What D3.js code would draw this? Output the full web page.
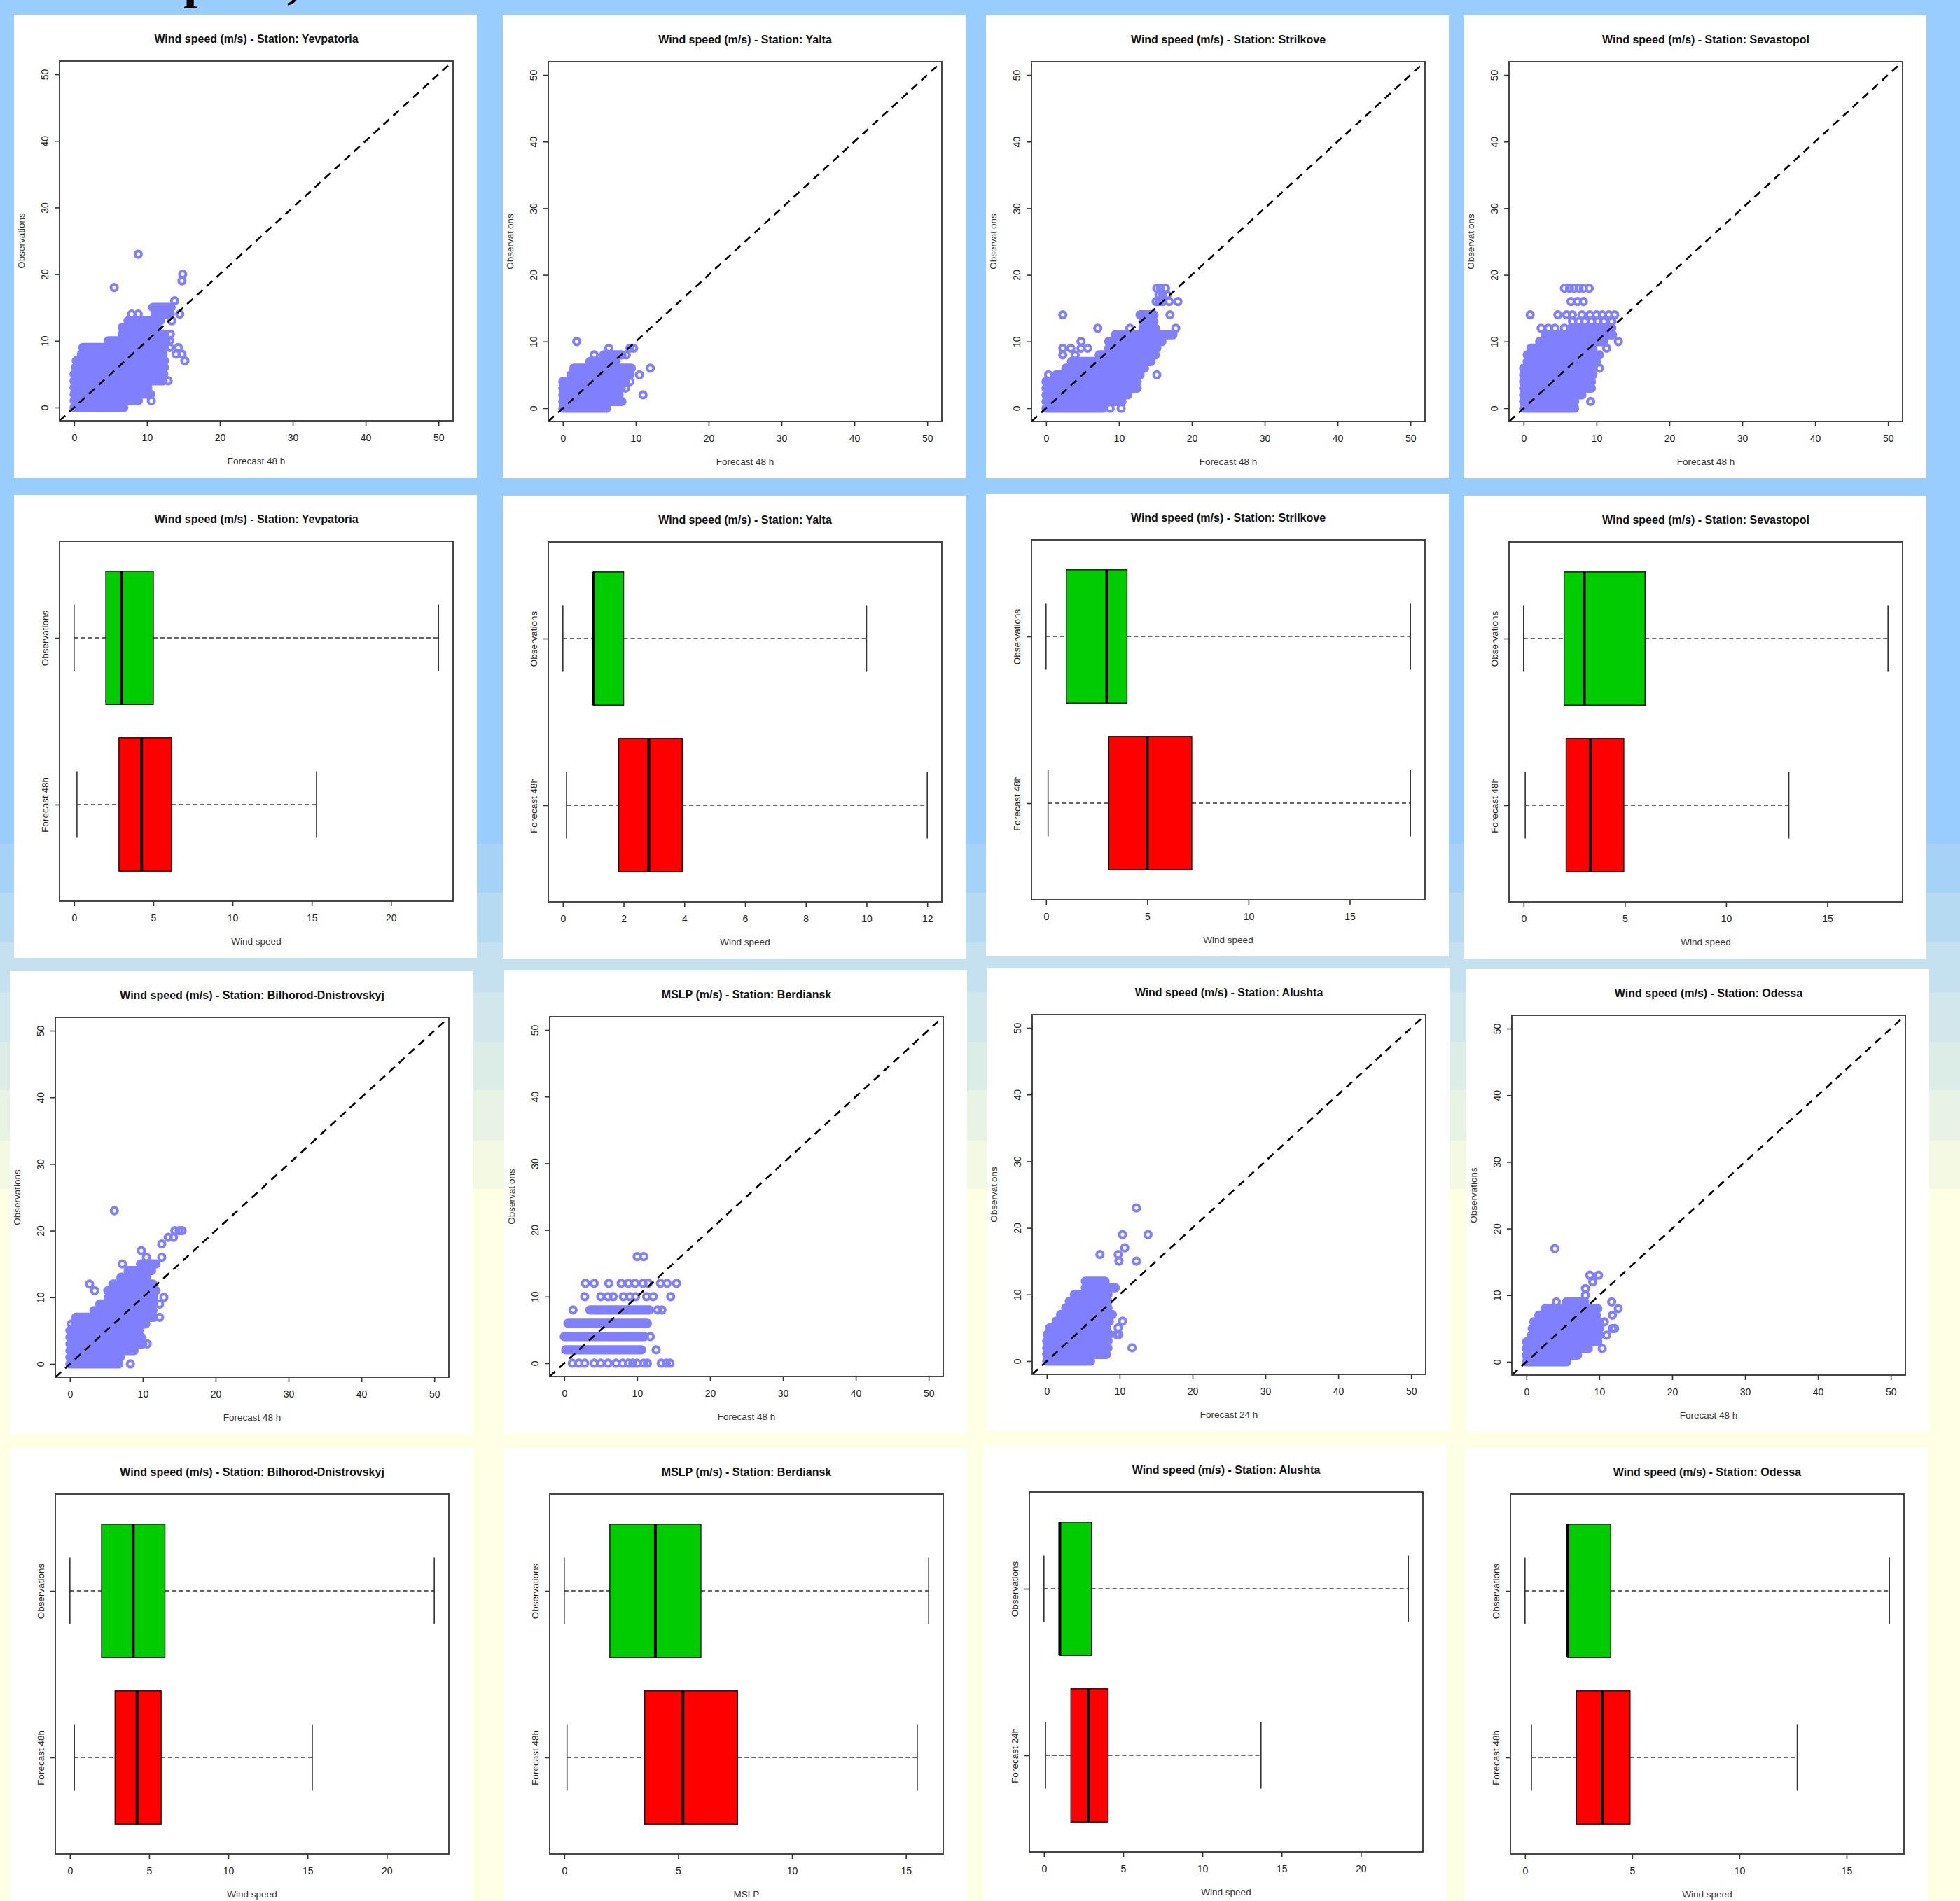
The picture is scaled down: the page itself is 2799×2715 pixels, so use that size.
<!DOCTYPE html>
<html>
<head>
<meta charset="utf-8">
<script src="https://cdn.jsdelivr.net/npm/d3@7"></script>
<style>
  html, body { margin: 0; padding: 0; background: #ffffff; }
  svg { display: block; }
  text { font-family: "Liberation Sans", Arial, sans-serif; }
</style>
</head>
<body>
<svg id="chart" width="2799" height="2715"></svg>
<script>
// ---------------------------------------------------------------
// Data: forecast vs. observed values per station.
// Scatter "runs" are rows of overlapping markers: [obs, fcMin, fcMax];
// scatter points are single markers: [forecast, obs].
// Box stats are [whiskerLow, q1, median, q3, whiskerHigh].
// ---------------------------------------------------------------
const scatterTicks = [0, 10, 20, 30, 40, 50];
const scatterDomain = [0, 50];

const yevpatoriaRuns = [[0,0,6.8],[1,0,8.8],[2,0,10.4],[3,0,10.0],[4,0,12.2],[5,0,12.3],[6,0.2,12.4],[7,0.3,12.4],[8,1.0,12.2],[9,1.2,12.4],[10,4.7,12.6],[11,6.6,12.4],[12,6.6,11.4],[13,7.4,11.8],[14,11.1,13.2],[15,10.8,13.3]];
const yevpatoriaPoints = [[10.6,1],[10.5,2],[10.1,3],[12.9,4],[15.2,7],[14.0,8],[14.8,8],[13.1,9],[14.3,9],[13.1,10],[13.2,11],[13.4,13],[7.9,14],[8.8,14],[14.5,14],[13.8,16],[5.5,18],[14.8,19],[14.9,20],[8.8,23]];

const yaltaRuns = [[0,0,6.0],[1,0,8.1],[2,0,7.7],[3,0,8.0],[4,0,8.6],[5,1.1,9.2],[6,1.5,9.4],[7,3.7,7.3],[8,5.6,8.1]];
const yaltaPoints = [[11.0,2],[8.6,3],[9.2,4],[10.5,5],[12.0,6],[4.3,8],[8.7,8],[6.3,9],[9.2,9],[9.7,9],[1.9,10]];

const strilkoveRuns = [[0,0,7.8],[1,0,10.4],[2,0,11.2],[3,0,12.5],[4,0,12.5],[5,1.4,12.9],[6,2.7,13.5],[7,3.5,14.4],[8,7.3,15.0],[9,8.6,15.2],[10,8.6,15.9],[11,9.5,17.4],[12,13.3,15.0],[13,13.3,14.8],[14,12.9,14.8]];
const strilkovePoints = [[8.8,0],[10.3,0],[0.35,5],[15.2,5],[2.3,8],[4.0,8],[2.3,9],[3.4,9],[4.8,9],[5.7,9],[4.8,10],[7.1,12],[11.5,12],[17.8,12],[2.3,14],[17.0,14],[15.1,16],[15.6,16],[16.0,16],[16.9,16],[18.1,16],[15.5,17],[16.0,17],[16.6,17],[15.2,18],[15.7,18],[16.4,18]];

const sevastopolRuns = [[0,0,7.0],[1,0,7.0],[2,0,8.0],[3,0,9.0],[4,0,9.3],[5,0,9.5],[6,0,9.5],[7,0.5,10.0],[8,0.5,10.0],[9,1.0,9.5],[10,2.2,11.0],[11,3.0,12.0],[12,6.5,12.1]];
const sevastopolPoints = [[9.2,1],[9.3,3],[10.4,6],[10.4,8],[11.4,9],[13.0,10],[12.2,11],[2.4,12],[3.4,12],[4.3,12],[5.6,12],[6.7,13],[7.6,13],[8.4,13],[9.3,13],[10.2,13],[11.0,13],[12.1,13],[0.9,14],[4.7,14],[5.9,14],[6.7,14],[8.0,14],[9.1,14],[10.0,14],[10.8,14],[11.7,14],[12.5,14],[6.5,16],[7.4,16],[8.2,16],[5.6,18],[6.3,18],[6.9,18],[7.6,18],[8.2,18],[9.0,18]];

const bilhorodRuns = [[0,0,6.7],[1,0,6.8],[2,0,8.8],[3,0,10.0],[4,0,9.8],[5,0,9.5],[6,0.7,10.4],[7,0.8,11.5],[8,3.3,11.4],[9,4.1,11.5],[10,5.3,11.5],[11,5.2,11.8],[12,5.9,11.4],[13,7.0,10.5],[14,8.0,11.2],[15,9.7,11.8]];
const bilhorodPoints = [[8.3,0],[6.9,1],[10.6,3],[0.2,6],[12.3,7],[12.3,9],[12.9,10],[3.4,11],[2.7,12],[7.2,15],[10.5,16],[12.6,16],[9.8,17],[12.6,18],[13.5,19],[14.2,19],[14.4,20],[15.0,20],[15.4,20],[6.1,23]];

const berdianskRuns = [[2,0.2,10.6],[4,0.2,11.0],[6,0.5,11.4],[8,3.5,11.7]];
const berdianskPoints = [[1.1,0],[2.0,0],[2.8,0],[4.1,0],[5.0,0],[6.0,0],[7.1,0],[8.0,0],[8.8,0],[9.4,0],[10.0,0],[10.9,0],[11.4,0],[13.3,0],[14.0,0],[14.5,0],[12.6,2],[0,4],[11.8,4],[1.2,8],[12.8,8],[13.4,8],[2.8,10],[5.0,10],[6.0,10],[6.7,10],[8.1,10],[9.0,10],[9.8,10],[11.3,10],[12.2,10],[14.6,10],[2.9,12],[4.1,12],[6.1,12],[7.8,12],[8.8,12],[9.7,12],[10.8,12],[11.5,12],[13.2,12],[14.1,12],[15.4,12],[10.0,16],[10.9,16]];

const alushtaRuns = [[0,0,6.0],[1,0,8.2],[2,0,8.4],[3,0,8.4],[4,0.1,8.6],[5,0.4,8.2],[6,1.3,8.6],[7,1.9,9.0],[8,2.6,8.4],[9,3.1,8.4],[10,3.8,8.4],[11,5.3,9.4],[12,5.3,8.0]];
const alushtaPoints = [[11.7,2],[9.6,4],[9.9,4],[9.8,5],[10.4,6],[9.9,15],[12.3,15],[7.3,16],[9.8,16],[10.7,17],[10.4,19],[13.9,19],[12.3,23]];

const odessaRuns = [[0,0,5.5],[1,0,7.0],[2,0,8.5],[3,0,9.8],[4,0.7,10.0],[5,0.8,10.0],[6,1.0,10.0],[7,1.7,9.6],[8,2.6,9.8],[9,5.5,8.0]];
const odessaPoints = [[10.4,2],[11.0,4],[11.8,5],[12.1,5],[10.7,6],[11.8,7],[12.6,8],[4.1,9],[11.7,9],[8.1,10],[8.1,11],[9.1,12],[8.7,13],[9.9,13],[3.9,17]];

// Box plot statistics
const yevpatoriaObsBox = [0, 2, 3, 5, 23];
const yevpatoriaFcBox  = [0.18, 2.83, 4.26, 6.15, 15.3];
const yevpatoriaBoxTicks = [0, 5, 10, 15, 20];

const yaltaObsBox = [0, 1, 1, 2, 10];
const yaltaFcBox  = [0.12, 1.84, 2.83, 3.93, 12];
const yaltaBoxTicks = [0, 2, 4, 6, 8, 10, 12];

const strilkoveObsBox = [0, 1, 3, 4, 18];
const strilkoveFcBox  = [0.1, 3.1, 5.0, 7.2, 18];
const strilkoveBoxTicks = [0, 5, 10, 15];

const sevastopolObsBox = [0, 2, 3, 6, 18];
const sevastopolFcBox  = [0.08, 2.1, 3.3, 4.95, 13.1];
const sevastopolBoxTicks = [0, 5, 10, 15];

const bilhorodObsBox = [0, 2, 4, 6, 23];
const bilhorodFcBox  = [0.28, 2.85, 4.24, 5.76, 15.3];
const bilhorodBoxTicks = [0, 5, 10, 15, 20];

const berdianskObsBox = [0, 2, 4, 6, 16];
const berdianskFcBox  = [0.12, 3.53, 5.21, 7.61, 15.5];
const berdianskBoxTicks = [0, 5, 10, 15];

const alushtaObsBox = [0, 1, 1, 3, 23];
const alushtaFcBox  = [0.1, 1.7, 2.8, 4.05, 13.7];
const alushtaBoxTicks = [0, 5, 10, 15, 20];

const odessaObsBox = [0, 2, 2, 4, 17];
const odessaFcBox  = [0.3, 2.4, 3.6, 4.9, 12.7];
const odessaBoxTicks = [0, 5, 10, 15];

// ---------------------------------------------------------------
// Page layout and styling
// ---------------------------------------------------------------
const W = 2799, H = 2715;
const PANEL = 661;
const M = { left: 65, right: 34, top: 66, bottom: 81 };
const PT_COLOR = "#8080FF";
const OBS_FILL = "#00CC00";
const FC_FILL = "#FF0000";
const AXIS_COLOR = "#333333";
const TITLE_SIZE = 16;
const TICK_SIZE = 14;
const LABEL_SIZE = 13.5;

const bgBands = [
  [0, "#99CCFF"], [1205, "#A7D2F8"], [1275, "#B6DAF2"], [1346, "#C5E1F0"],
  [1417, "#D1E7EC"], [1488, "#DCEDE8"], [1557, "#E8F3E5"], [1629, "#F3F9E3"],
  [1698, "#FFFFE3"]
];

const svg = d3.select("#chart");

svg.append("g").selectAll("rect").data(bgBands).join("rect")
  .attr("x", 0).attr("y", d => d[0]).attr("width", W)
  .attr("height", (d, i) => (i < bgBands.length - 1 ? bgBands[i + 1][0] : H) - d[0])
  .attr("fill", d => d[1]);

// Slide heading, mostly above the top edge
svg.append("text")
  .attr("x", 262).attr("y", -3)
  .attr("font-weight", "bold").attr("font-size", 72).attr("fill", "#000")
  .style("font-family", "'Liberation Serif', 'Times New Roman', serif")
  .text("plots,");

let clipId = 0;

function panelFrame(px, py, title) {
  const g = svg.append("g").attr("transform", `translate(${px},${py})`);
  g.append("rect").attr("width", PANEL).attr("height", PANEL).attr("fill", "#ffffff");
  g.append("text")
    .attr("x", M.left + (PANEL - M.left - M.right) / 2).attr("y", 40)
    .attr("text-anchor", "middle").attr("font-size", TITLE_SIZE).attr("font-weight", "bold")
    .attr("fill", "#111").text(title);
  return g;
}

function styleAxis(sel) {
  sel.select(".domain").remove();
  sel.selectAll(".tick line").attr("stroke", AXIS_COLOR).attr("stroke-width", 1.6);
  sel.selectAll(".tick text").attr("fill", "#222").attr("font-size", TICK_SIZE)
    .attr("font-family", "'Liberation Sans', Arial, sans-serif");
}

function bottomAxis(g, x, ticks, y0, label) {
  const ax = g.append("g").attr("transform", `translate(0,${y0})`)
    .call(d3.axisBottom(x).tickValues(ticks).tickFormat(d3.format("d")).tickSize(7).tickPadding(12));
  styleAxis(ax);
  g.append("text")
    .attr("x", M.left + (PANEL - M.left - M.right) / 2).attr("y", y0 + 62)
    .attr("text-anchor", "middle").attr("font-size", LABEL_SIZE).attr("fill", "#333").text(label);
}

function leftAxis(g, y, ticks, fmt, size) {
  const ax = g.append("g").attr("transform", `translate(${M.left},0)`)
    .call(d3.axisLeft(y).tickValues(ticks).tickFormat(fmt).tickSize(7));
  styleAxis(ax);
  ax.selectAll(".tick text")
    .attr("x", null).attr("dy", null).attr("y", null)
    .attr("font-size", size)
    .attr("text-anchor", "middle")
    .attr("transform", "translate(-16,0) rotate(-90)");
}

function plotBox(g) {
  g.append("rect")
    .attr("x", M.left).attr("y", M.top)
    .attr("width", PANEL - M.left - M.right).attr("height", PANEL - M.top - M.bottom)
    .attr("fill", "none").attr("stroke", AXIS_COLOR).attr("stroke-width", 1.8);
}

function scatterPanel(px, py, title, xLabel, runs, points) {
  const g = panelFrame(px, py, title);
  const pw = PANEL - M.left - M.right, ph = PANEL - M.top - M.bottom;
  const pad = (scatterDomain[1] - scatterDomain[0]) * 0.04;
  const dom = [scatterDomain[0] - pad, scatterDomain[1] + pad];
  const x = d3.scaleLinear().domain(dom).range([M.left, M.left + pw]);
  const y = d3.scaleLinear().domain(dom).range([M.top + ph, M.top]);

  const id = "clip" + (clipId++);
  g.append("clipPath").attr("id", id).append("rect")
    .attr("x", M.left).attr("y", M.top).attr("width", pw).attr("height", ph);

  // dense rows of overlapping markers
  g.append("g").selectAll("line").data(runs).join("line")
    .attr("x1", d => x(d[1])).attr("x2", d => x(d[2]))
    .attr("y1", d => y(d[0])).attr("y2", d => y(d[0]))
    .attr("stroke", PT_COLOR).attr("stroke-width", 13.2).attr("stroke-linecap", "round");

  // individual open-circle markers
  g.append("g").selectAll("circle").data(points).join("circle")
    .attr("cx", d => x(d[0])).attr("cy", d => y(d[1])).attr("r", 4.6)
    .attr("fill", "none").attr("stroke", PT_COLOR).attr("stroke-width", 4);

  // 1:1 reference line
  g.append("line").attr("clip-path", `url(#${id})`)
    .attr("x1", x(dom[0])).attr("y1", y(dom[0])).attr("x2", x(dom[1])).attr("y2", y(dom[1]))
    .attr("stroke", "#000").attr("stroke-width", 2.6).attr("stroke-dasharray", "11,8");

  plotBox(g);
  bottomAxis(g, x, scatterTicks, M.top + ph, xLabel);
  leftAxis(g, y, scatterTicks, d3.format("d"), TICK_SIZE);
  g.append("text")
    .attr("transform", `translate(${M.left - 50},${M.top + ph / 2}) rotate(-90)`)
    .attr("text-anchor", "middle").attr("font-size", LABEL_SIZE).attr("fill", "#333")
    .text("Observations");
}

function boxPanel(px, py, title, xLabel, fcLabel, obs, fc, ticks) {
  const g = panelFrame(px, py, title);
  const pw = PANEL - M.left - M.right, ph = PANEL - M.top - M.bottom;
  const lo = Math.min(obs[0], fc[0]), hi = Math.max(obs[4], fc[4]);
  const pad = (hi - lo) * 0.04;
  const x = d3.scaleLinear().domain([lo - pad, hi + pad]).range([M.left, M.left + pw]);
  const y = d3.scaleLinear().domain([0.42, 2.58]).range([M.top + ph, M.top]);

  const groups = [
    { pos: 2, s: obs, fill: OBS_FILL },
    { pos: 1, s: fc, fill: FC_FILL }
  ];
  const bg = g.append("g").selectAll("g").data(groups).join("g");
  // whiskers
  bg.append("line")
    .attr("x1", d => x(d.s[0])).attr("x2", d => x(d.s[1]))
    .attr("y1", d => y(d.pos)).attr("y2", d => y(d.pos))
    .attr("stroke", AXIS_COLOR).attr("stroke-width", 1.5).attr("stroke-dasharray", "6,4");
  bg.append("line")
    .attr("x1", d => x(d.s[3])).attr("x2", d => x(d.s[4]))
    .attr("y1", d => y(d.pos)).attr("y2", d => y(d.pos))
    .attr("stroke", AXIS_COLOR).attr("stroke-width", 1.5).attr("stroke-dasharray", "6,4");
  // staples
  [0, 4].forEach(k => {
    bg.append("line")
      .attr("x1", d => x(d.s[k])).attr("x2", d => x(d.s[k]))
      .attr("y1", d => y(d.pos - 0.2)).attr("y2", d => y(d.pos + 0.2))
      .attr("stroke", AXIS_COLOR).attr("stroke-width", 1.6);
  });
  // boxes
  bg.append("rect")
    .attr("x", d => x(d.s[1])).attr("width", d => x(d.s[3]) - x(d.s[1]))
    .attr("y", d => y(d.pos + 0.4)).attr("height", d => y(d.pos - 0.4) - y(d.pos + 0.4))
    .attr("fill", d => d.fill).attr("stroke", "#111").attr("stroke-width", 1.4);
  // medians
  bg.append("line")
    .attr("x1", d => x(d.s[2])).attr("x2", d => x(d.s[2]))
    .attr("y1", d => y(d.pos + 0.4)).attr("y2", d => y(d.pos - 0.4))
    .attr("stroke", "#000").attr("stroke-width", 4);

  plotBox(g);
  bottomAxis(g, x, ticks, M.top + ph, xLabel);
  const names = { 1: fcLabel, 2: "Observations" };
  leftAxis(g, y, [1, 2], d => names[d], LABEL_SIZE);
}

// ---------------------------------------------------------------
// Panels
// ---------------------------------------------------------------
scatterPanel(20, 21, "Wind speed (m/s) - Station: Yevpatoria", "Forecast 48 h", yevpatoriaRuns, yevpatoriaPoints);
scatterPanel(718, 22, "Wind speed (m/s) - Station: Yalta", "Forecast 48 h", yaltaRuns, yaltaPoints);
scatterPanel(1408, 22, "Wind speed (m/s) - Station: Strilkove", "Forecast 48 h", strilkoveRuns, strilkovePoints);
scatterPanel(2090, 22, "Wind speed (m/s) - Station: Sevastopol", "Forecast 48 h", sevastopolRuns, sevastopolPoints);

boxPanel(20, 707, "Wind speed (m/s) - Station: Yevpatoria", "Wind speed", "Forecast 48h", yevpatoriaObsBox, yevpatoriaFcBox, yevpatoriaBoxTicks);
boxPanel(718, 708, "Wind speed (m/s) - Station: Yalta", "Wind speed", "Forecast 48h", yaltaObsBox, yaltaFcBox, yaltaBoxTicks);
boxPanel(1408, 705, "Wind speed (m/s) - Station: Strilkove", "Wind speed", "Forecast 48h", strilkoveObsBox, strilkoveFcBox, strilkoveBoxTicks);
boxPanel(2090, 708, "Wind speed (m/s) - Station: Sevastopol", "Wind speed", "Forecast 48h", sevastopolObsBox, sevastopolFcBox, sevastopolBoxTicks);

scatterPanel(14, 1387, "Wind speed (m/s) - Station: Bilhorod-Dnistrovskyj", "Forecast 48 h", bilhorodRuns, bilhorodPoints);
scatterPanel(720, 1386, "MSLP (m/s) - Station: Berdiansk", "Forecast 48 h", berdianskRuns, berdianskPoints);
scatterPanel(1409, 1383, "Wind speed (m/s) - Station: Alushta", "Forecast 24 h", alushtaRuns, alushtaPoints);
scatterPanel(2094, 1384, "Wind speed (m/s) - Station: Odessa", "Forecast 48 h", odessaRuns, odessaPoints);

boxPanel(14, 2068, "Wind speed (m/s) - Station: Bilhorod-Dnistrovskyj", "Wind speed", "Forecast 48h", bilhorodObsBox, bilhorodFcBox, bilhorodBoxTicks);
boxPanel(720, 2068, "MSLP (m/s) - Station: Berdiansk", "MSLP", "Forecast 48h", berdianskObsBox, berdianskFcBox, berdianskBoxTicks);
boxPanel(1405, 2065, "Wind speed (m/s) - Station: Alushta", "Wind speed", "Forecast 24h", alushtaObsBox, alushtaFcBox, alushtaBoxTicks);
boxPanel(2092, 2068, "Wind speed (m/s) - Station: Odessa", "Wind speed", "Forecast 48h", odessaObsBox, odessaFcBox, odessaBoxTicks);
</script>
</body>
</html>
